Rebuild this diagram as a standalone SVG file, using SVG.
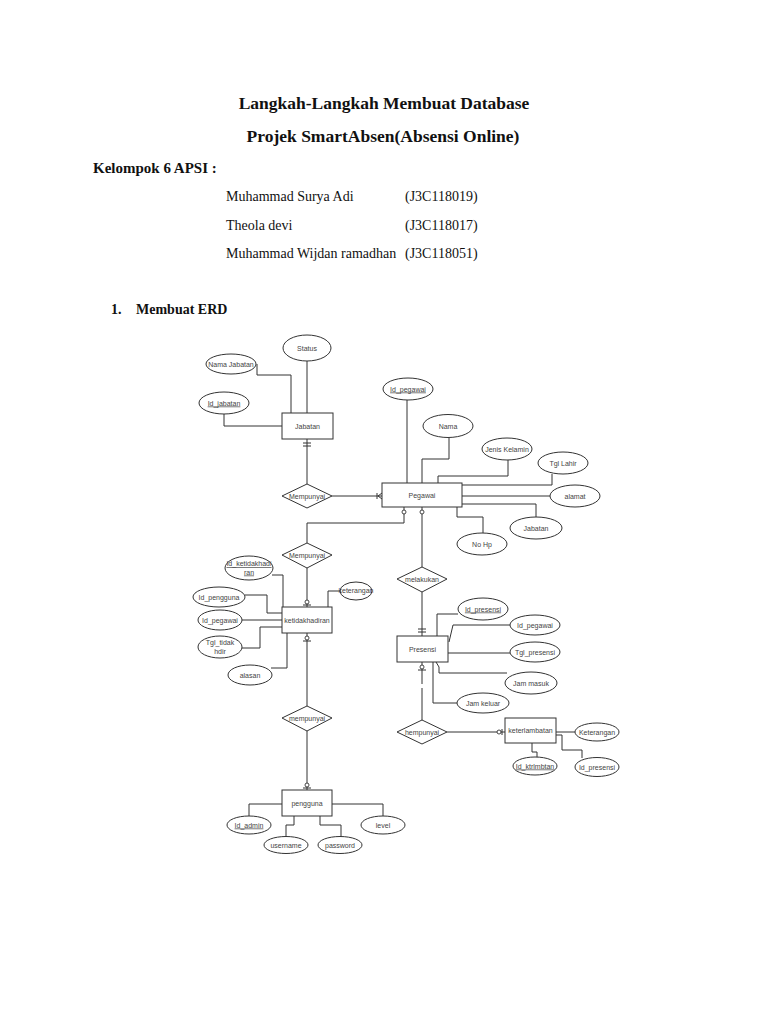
<svg xmlns="http://www.w3.org/2000/svg" width="768" height="1024" viewBox="0 0 768 1024">
<style>
.bg{fill:#fff}
.h{font-family:"Liberation Serif","Times New Roman",serif;fill:#111}
.b{font-weight:bold}
.e{fill:#fff;stroke:#333;stroke-width:1}
.r{fill:#fff;stroke:#333;stroke-width:1}
.d{fill:#fff;stroke:#333;stroke-width:1}
.t{font-family:"Liberation Sans",Arial,sans-serif;font-size:7px;fill:#444;text-anchor:middle}
.u{text-decoration:underline}
.c path,.c polyline,.c line{fill:none;stroke:#333;stroke-width:1}
.m{fill:#fff;stroke:#333;stroke-width:0.9}
</style>
<rect class="bg" x="0" y="0" width="768" height="1024"/>

<g id="header">
<text class="h b" x="384" y="109" font-size="17.5" text-anchor="middle">Langkah-Langkah Membuat Database</text>
<text class="h b" x="383" y="142" font-size="17.5" text-anchor="middle">Projek SmartAbsen(Absensi Online)</text>
<text class="h b" x="93" y="173" font-size="15">Kelompok 6 APSI :</text>
<text class="h" x="226" y="201" font-size="14">Muhammad Surya Adi</text>
<text class="h" x="405" y="201" font-size="14">(J3C118019)</text>
<text class="h" x="226" y="230" font-size="14">Theola devi</text>
<text class="h" x="405" y="230" font-size="14">(J3C118017)</text>
<text class="h" x="226" y="258" font-size="14">Muhammad Wijdan ramadhan</text>
<text class="h" x="405" y="258" font-size="14">(J3C118051)</text>
<text class="h b" x="111" y="314" font-size="14">1.</text>
<text class="h b" x="136" y="314" font-size="14">Membuat ERD</text>
</g>

<g id="connectors" class="c">
<!-- Jabatan attributes -->
<polyline points="257,364 257,375 291,375 291,413"/>
<line x1="307" y1="361" x2="307" y2="413"/>
<polyline points="224,414 224,426 282,426"/>
<!-- Jabatan - Mempunyai - Pegawai -->
<line x1="307" y1="439" x2="307" y2="484"/>
<line x1="303" y1="443" x2="311" y2="443"/>
<line x1="303" y1="446" x2="311" y2="446"/>
<line x1="332" y1="496" x2="382" y2="496"/>
<line x1="377" y1="493" x2="377" y2="499"/>
<polyline points="382,493 378,496 382,499"/>
<!-- Pegawai attributes -->
<line x1="407" y1="400" x2="407" y2="483"/>
<polyline points="449,438 449,459 422,459 422,483"/>
<polyline points="508,460 508,476 438,476 438,483"/>
<polyline points="552,474 552,485 462,485"/>
<line x1="462" y1="496" x2="550" y2="496"/>
<polyline points="462,504 536,504 536,517"/>
<polyline points="457,507 457,517 483,517 483,533"/>
<!-- Pegawai - Mempunyai - ketidakhadiran -->
<polyline points="404,507 404,523 307,523 307,543"/>
<circle class="m" cx="404" cy="512" r="2"/>
<line x1="307" y1="568" x2="307" y2="607"/>
<circle class="m" cx="307" cy="602" r="2"/>
<line x1="303" y1="605" x2="311" y2="605"/>
<!-- Pegawai - melakukan - Presensi -->
<line x1="422" y1="507" x2="422" y2="567"/>
<circle class="m" cx="422" cy="512" r="2"/>
<line x1="422" y1="592" x2="422" y2="636"/>
<line x1="418" y1="629" x2="426" y2="629"/>
<line x1="418" y1="632" x2="426" y2="632"/>
<!-- ketidakhadiran attributes -->
<polyline points="272,575 283,575 283,607"/>
<polyline points="340,591 328,591 328,607"/>
<polyline points="245,595 267,595 267,613 282,613"/>
<line x1="242" y1="620" x2="282" y2="620"/>
<polyline points="242,648 260,648 260,627 282,627"/>
<polyline points="271,668 287,668 287,633"/>
<!-- ketidakhadiran - mempunyai - pengguna -->
<line x1="307" y1="633" x2="307" y2="706"/>
<circle class="m" cx="307" cy="638" r="2"/>
<line x1="303" y1="641" x2="311" y2="641"/>
<line x1="307" y1="731" x2="307" y2="790"/>
<circle class="m" cx="307" cy="785" r="2"/>
<line x1="303" y1="788" x2="311" y2="788"/>
<!-- pengguna attributes -->
<polyline points="249,816 249,804 282,804"/>
<polyline points="286,837 286,825 294,825 294,816"/>
<polyline points="341,837 341,825 320,825 320,816"/>
<polyline points="383,816 383,804 332,804"/>
<!-- Presensi attributes -->
<polyline points="458,614 437,614 437,636"/>
<polyline points="510,625 453,625 449,642"/>
<line x1="448" y1="653" x2="510" y2="653"/>
<polyline points="436,662 439,667 439,673 507,673"/>
<polyline points="433,662 433,703 457,703"/>
<!-- Presensi - hempunyai - keterlambatan -->
<line x1="422" y1="662" x2="422" y2="684"/>
<line x1="422" y1="688" x2="422" y2="720"/>
<circle class="m" cx="422" cy="667" r="2"/>
<line x1="418" y1="670" x2="426" y2="670"/>
<line x1="447" y1="732" x2="505" y2="732"/>
<circle class="m" cx="499" cy="732" r="2"/>
<line x1="502" y1="729" x2="502" y2="735"/>
<!-- keterlambatan attributes -->
<line x1="556" y1="732" x2="575" y2="732"/>
<polyline points="532,743 532,752 537,752 537,758"/>
<polyline points="556,735 562,735 562,750 582,750 582,758"/>
</g>

<g id="jabatan">
<rect class="r" x="282" y="413" width="51" height="26"/>
<text class="t" x="307.5" y="428.5">Jabatan</text>
</g>
<g id="attr-status"><ellipse class="e" cx="307" cy="348" rx="24" ry="13"/><text class="t" x="307" y="350.5">Status</text></g>
<g id="attr-nama-jabatan"><ellipse class="e" cx="231" cy="364" rx="25" ry="10"/><text class="t" x="231" y="366.5" font-size="6.3">Nama Jabatan</text></g>
<g id="attr-id-jabatan"><ellipse class="e" cx="224" cy="403" rx="25" ry="11"/><text class="t u" x="224" y="405.5">Id_jabatan</text></g>

<g id="rel-mempunyai-1">
<polygon class="d" points="282,496 307,484 332,496 307,508"/>
<text class="t" x="307" y="498.5" font-size="6.5">Mempunyai</text>
</g>

<g id="pegawai">
<rect class="r" x="382" y="483" width="80" height="24"/>
<text class="t" x="422" y="497.5">Pegawai</text>
</g>
<g id="attr-id-pegawai"><ellipse class="e" cx="408" cy="389" rx="25" ry="11"/><text class="t u" x="408" y="391.5">Id_pegawai</text></g>
<g id="attr-nama"><ellipse class="e" cx="448" cy="426" rx="25" ry="11.5"/><text class="t" x="448" y="428.5">Nama</text></g>
<g id="attr-jenis-kelamin"><ellipse class="e" cx="507" cy="449" rx="25" ry="11"/><text class="t" x="507" y="451.5">Jenis Kelamin</text></g>
<g id="attr-tgl-lahir"><ellipse class="e" cx="563" cy="463" rx="25" ry="11"/><text class="t" x="563" y="465.5">Tgl Lahir</text></g>
<g id="attr-alamat"><ellipse class="e" cx="575" cy="496" rx="25" ry="11"/><text class="t" x="575" y="498.5">alamat</text></g>
<g id="attr-jabatan"><ellipse class="e" cx="536" cy="528" rx="26" ry="11"/><text class="t" x="536" y="530.5">Jabatan</text></g>
<g id="attr-no-hp"><ellipse class="e" cx="482" cy="544" rx="25" ry="11"/><text class="t" x="482" y="546.5">No Hp</text></g>

<g id="rel-mempunyai-2">
<polygon class="d" points="282,555 307,543 332,555 307,568"/>
<text class="t" x="307" y="557.5" font-size="6.5">Mempunyai</text>
</g>

<g id="ketidakhadiran">
<rect class="r" x="282" y="607" width="50" height="26"/>
<text class="t" x="307" y="622.5" font-size="6.5">ketidakhadiran</text>
</g>
<g id="attr-id-ketidakhadiran"><ellipse class="e" cx="249" cy="568" rx="24" ry="12"/><text class="t u" x="249" y="566" font-size="5.8">Id_ketidakhadi</text><text class="t u" x="249" y="574.5" font-size="5.8">ran</text></g>
<g id="attr-keterangan"><ellipse class="e" cx="356" cy="591" rx="16" ry="9"/><text class="t" x="356" y="593" font-size="5.3">keterangan</text></g>
<g id="attr-id-pengguna"><ellipse class="e" cx="219" cy="597" rx="26" ry="10"/><text class="t" x="219" y="599.5">Id_pengguna</text></g>
<g id="attr-id-pegawai-2"><ellipse class="e" cx="220" cy="620" rx="22" ry="10"/><text class="t" x="220" y="622.5">Id_pegawai</text></g>
<g id="attr-tgl-tidak-hdir"><ellipse class="e" cx="220" cy="647" rx="22" ry="11"/><text class="t" x="220" y="645">Tgl_tidak</text><text class="t" x="220" y="653.5">hdir</text></g>
<g id="attr-alasan"><ellipse class="e" cx="250" cy="675" rx="22" ry="10"/><text class="t" x="250" y="677.5">alasan</text></g>

<g id="rel-mempunyai-3">
<polygon class="d" points="282,718 307,706 332,718 307,731"/>
<text class="t" x="307" y="720.5" font-size="6.5">mempunyai</text>
</g>

<g id="pengguna">
<rect class="r" x="282" y="790" width="50" height="26"/>
<text class="t" x="307" y="805.5">pengguna</text>
</g>
<g id="attr-id-admin"><ellipse class="e" cx="249" cy="825" rx="22" ry="9"/><text class="t u" x="249" y="827.5">Id_admin</text></g>
<g id="attr-username"><ellipse class="e" cx="286" cy="845" rx="22" ry="8.5"/><text class="t" x="286" y="847.5">username</text></g>
<g id="attr-password"><ellipse class="e" cx="340" cy="845" rx="22" ry="8.5"/><text class="t" x="340" y="847.5">password</text></g>
<g id="attr-level"><ellipse class="e" cx="383" cy="825" rx="22" ry="9"/><text class="t" x="383" y="827.5">level</text></g>

<g id="rel-melakukan">
<polygon class="d" points="397,579 422,567 447,579 422,592"/>
<text class="t" x="422" y="581.5" font-size="6.5">melakukan</text>
</g>

<g id="presensi">
<rect class="r" x="397" y="636" width="51" height="26"/>
<text class="t" x="422.5" y="651.5">Presensi</text>
</g>
<g id="attr-id-presensi"><ellipse class="e" cx="483" cy="609" rx="25" ry="11"/><text class="t u" x="483" y="611.5">Id_presensi</text></g>
<g id="attr-id-pegawai-3"><ellipse class="e" cx="535" cy="625" rx="25" ry="10"/><text class="t" x="535" y="627.5">Id_pegawai</text></g>
<g id="attr-tgl-presensi"><ellipse class="e" cx="535" cy="652" rx="25" ry="10"/><text class="t" x="535" y="654.5">Tgl_presensi</text></g>
<g id="attr-jam-masuk"><ellipse class="e" cx="531" cy="683" rx="26" ry="11"/><text class="t" x="531" y="685.5">Jam masuk</text></g>
<g id="attr-jam-keluar"><ellipse class="e" cx="483" cy="703" rx="26" ry="10"/><text class="t" x="483" y="705.5">Jam keluar</text></g>

<g id="rel-hempunyai">
<polygon class="d" points="397,732 422,720 447,732 422,744"/>
<text class="t" x="422" y="734.5" font-size="6.5">hempunyai</text>
</g>

<g id="keterlambatan">
<rect class="r" x="505" y="718" width="51" height="25"/>
<text class="t" x="530.5" y="733" font-size="6.5">keterlambatan</text>
</g>
<g id="attr-keterangan-2"><ellipse class="e" cx="597" cy="732" rx="22" ry="9"/><text class="t" x="597" y="734.5" font-size="6.5">Keterangan</text></g>
<g id="attr-id-ktrlmbtan"><ellipse class="e" cx="535" cy="766" rx="22" ry="9"/><text class="t u" x="535" y="768.5" font-size="6.5">Id_ktrlmbtan</text></g>
<g id="attr-id-presensi-2"><ellipse class="e" cx="597" cy="767" rx="22" ry="9.5"/><text class="t" x="597" y="769.5" font-size="6.5">Id_presensi</text></g>
</svg>
